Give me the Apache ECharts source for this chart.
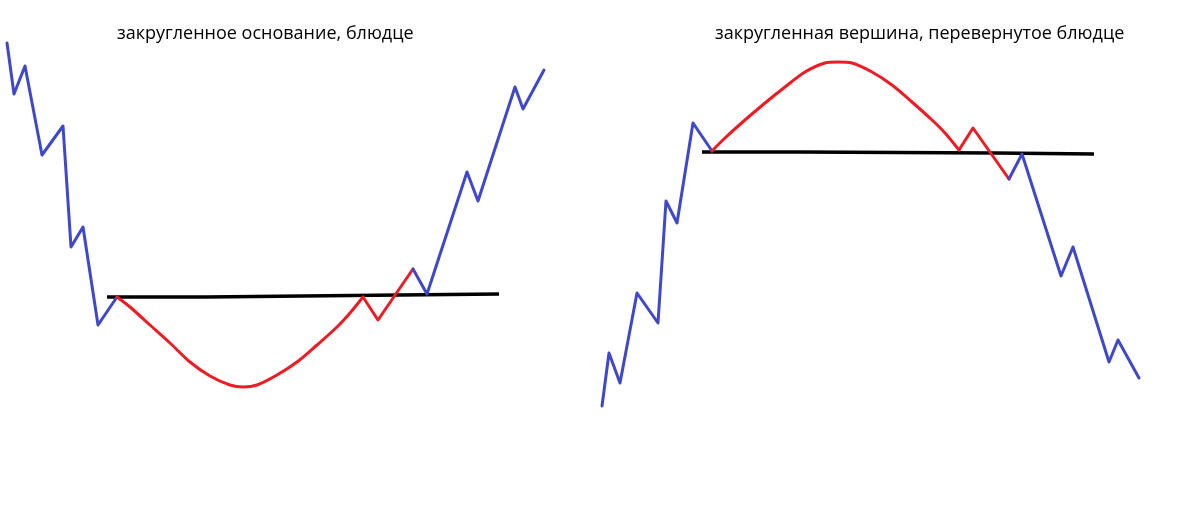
<!DOCTYPE html>
<html>
<head>
<meta charset="utf-8">
<script src="https://cdn.jsdelivr.net/npm/echarts@6/dist/echarts.min.js"></script>
<style>
  html, body { margin: 0; padding: 0; background: #ffffff; }
  #chart { width: 1188px; height: 525px; }
</style>
</head>
<body>
<div id="chart"></div>
<script>
// Titles
var titleLeft = 'закругленное основание, блюдце';
var titleRight = 'закругленная вершина, перевернутое блюдце';

// Left panel: rounded bottom (saucer) — [x, y] in picture units
var leftDown = [[7,43],[14,94],[25,66],[42,155],[63,126],[71,247],[83,227],[98,325],[117,297]];
var leftCurve = [[117,297],[130,307],[150,325],[170,343],[190,362],[210,376],[230,385],[243,387],[257,385],[277,375],[297,362],[317,345],[337,327],[350,313],[363,297]];
var leftZig = [[363,297],[378,320],[413,269]];
var leftUp = [[413,269],[427,294],[467,172],[478,201],[515,87],[523,109],[544,70]];
var leftNeck = [[107,297],[206,297],[206,295],[400,295],[400,294],[499,294]];

// Right panel: rounded top (inverted saucer)
var rightUp = [[602,406],[609,353],[620,383],[637,293],[658,323],[666,201],[677,223],[693,123],[712,151]];
var rightCurve = [[712,151],[725,138],[745,120],[765,103],[785,87],[805,72],[825,63],[838,62],[852,63],[872,72],[892,85],[912,102],[932,120],[945,133],[959,150]];
var rightZig = [[959,150],[973,128],[1009,179]];
var rightDown = [[1009,179],[1022,154],[1061,276],[1073,247],[1109,362],[1118,340],[1139,378]];
var rightNeck = [[702,152],[800,152],[800,153],[995,153],[995,154],[1094,154]];

var BLUE = '#3f48cc', RED = '#ed1c24', BLACK = '#000000';

function line(data, color, width, smooth, cap) {
  return {
    type: 'line', data: data, showSymbol: false, symbol: 'none',
    smooth: smooth || false, animation: false, silent: true,
    lineStyle: { color: color, width: width, cap: cap || 'round', join: 'round' }
  };
}

var chart = echarts.init(document.getElementById('chart'), null, { renderer: 'canvas' });
chart.setOption({
  backgroundColor: '#ffffff',
  animation: false,
  title: [
    { text: titleLeft, left: 112, top: 20,
      textStyle: { fontFamily: 'Open Sans', fontSize: 18, fontWeight: 'normal', color: '#000' } },
    { text: titleRight, left: 710, top: 20,
      textStyle: { fontFamily: 'Open Sans', fontSize: 18, fontWeight: 'normal', color: '#000' } }
  ],
  grid: { left: 0, right: 0, top: 0, bottom: 0 },
  xAxis: { type: 'value', min: 0, max: 1188, show: false },
  yAxis: { type: 'value', min: 0, max: 525, inverse: true, show: false },
  series: [
    line(leftNeck, BLACK, 3.5, false, 'butt'),
    line(rightNeck, BLACK, 3.5, false, 'butt'),
    line(leftDown, BLUE, 3),
    line(leftCurve, RED, 3, 0.3),
    line(leftZig, RED, 3),
    line(leftUp, BLUE, 3),
    line(rightUp, BLUE, 3),
    line(rightCurve, RED, 3, 0.3),
    line(rightZig, RED, 3),
    line(rightDown, BLUE, 3)
  ]
});
</script>
</body>
</html>
